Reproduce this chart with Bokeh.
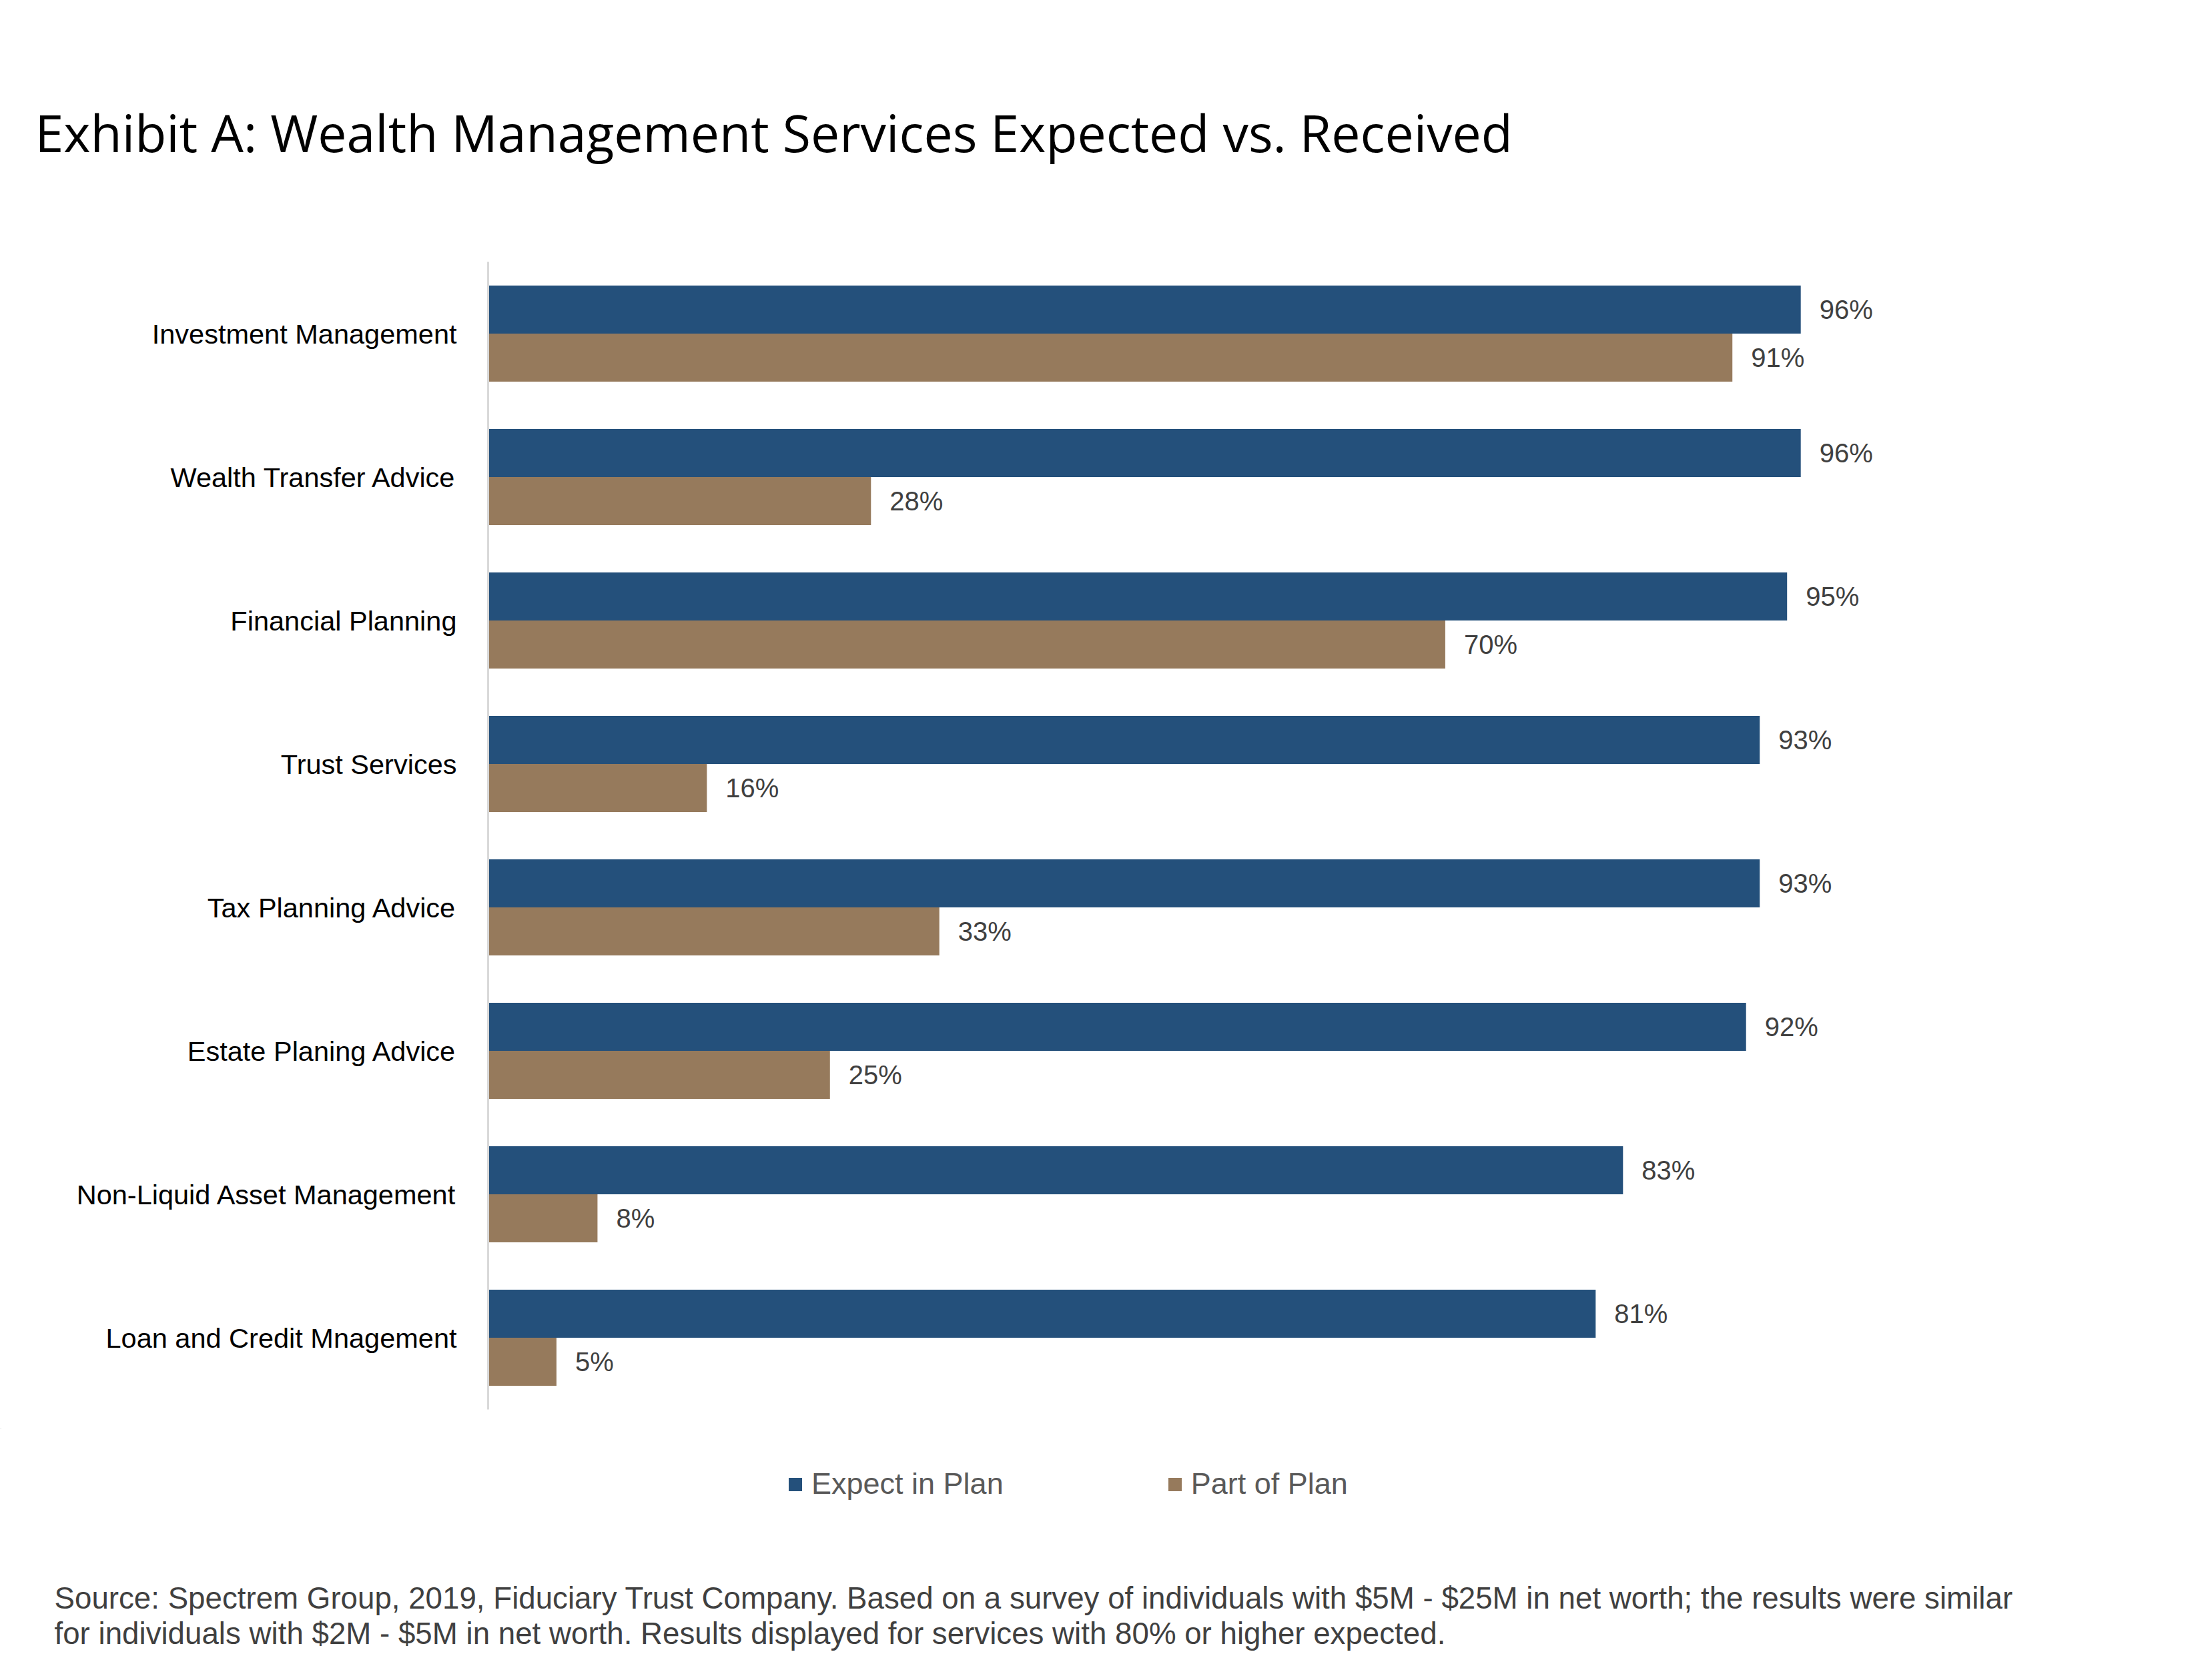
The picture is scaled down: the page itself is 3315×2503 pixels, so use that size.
from bokeh.plotting import figure
from bokeh.layouts import column
from bokeh.models import ColumnDataSource, Range1d, FactorRange, Legend, LegendItem
from bokeh.transform import dodge
from bokeh.core.properties import value
from bokeh.embed import file_html
from bokeh.resources import INLINE

# ---- data (top to bottom as in the chart) ----
categories = [
    "Investment Management",
    "Wealth Transfer Advice",
    "Financial Planning",
    "Trust Services",
    "Tax Planning Advice",
    "Estate Planing Advice",
    "Non-Liquid Asset Management",
    "Loan and Credit Mnagement",
]
expect_in_plan = [96, 96, 95, 93, 93, 92, 83, 81]
part_of_plan = [91, 28, 70, 16, 33, 25, 8, 5]
series_names = ["Expect in Plan", "Part of Plan"]

title_text = "Exhibit A: Wealth Management Services Expected vs. Received"
note_lines = [
    "Source: Spectrem Group, 2019, Fiduciary Trust Company. Based on a survey of individuals with $5M - $25M in net worth; the results were similar",
    "for individuals with $2M - $5M in net worth. Results displayed for services with 80% or higher expected.",
]

BLUE = "#24507B"
BROWN = "#967A5C"
LABEL_FONT = "Liberation Sans"

W = 3299
TITLE_H = 300
MAIN_H = 1840
FOOT_H = 347


def blank_fig(height, y_top):
    f = figure(width=W, height=height,
               x_range=Range1d(0, W), y_range=Range1d(y_top + height, y_top),
               output_backend="svg", toolbar_location=None,
               min_border=0, frame_align=False)
    f.axis.visible = False
    f.grid.visible = False
    f.outline_line_color = None
    return f


# ---- title ----
t = blank_fig(TITLE_H, 0)
t.text(x=[52], y=[198], text=[title_text], text_font=value("Open Sans"),
       text_font_size="77px", text_color="#000000",
       text_baseline="alphabetic", text_align="left")

# ---- main chart ----
source = ColumnDataSource(dict(
    cat=categories,
    expect=expect_in_plan,
    part=part_of_plan,
    expect_lbl=[f"{v}%" for v in expect_in_plan],
    part_lbl=[f"{v}%" for v in part_of_plan],
))

p = figure(
    width=W, height=MAIN_H,
    x_range=Range1d(0, 120),
    y_range=FactorRange(factors=list(reversed(categories)), range_padding=0),
    output_backend="svg", toolbar_location=None,
    min_border_left=731, min_border_right=109,
    min_border_top=92, min_border_bottom=28, frame_align=False,
)
p.outline_line_color = None
p.xgrid.visible = False
p.ygrid.visible = False
p.xaxis.visible = False

ax = p.yaxis[0]
ax.axis_line_color = "#D9D9D9"
ax.axis_line_width = 3
ax.major_tick_line_color = None
ax.minor_tick_line_color = None
ax.major_tick_out = 0
ax.major_tick_in = 0
ax.major_label_standoff = 47
ax.major_label_text_font = LABEL_FONT
ax.major_label_text_font_size = "41.5px"
ax.major_label_text_color = "#000000"

BH = 0.335
off = BH / 2
r1 = p.hbar(y=dodge("cat", off, range=p.y_range), right="expect", left=0, height=BH,
            source=source, fill_color=BLUE, line_color=None)
r2 = p.hbar(y=dodge("cat", -off, range=p.y_range), right="part", left=0, height=BH,
            source=source, fill_color=BROWN, line_color=None)

for col, lbl, o in (("expect", "expect_lbl", off), ("part", "part_lbl", -off)):
    p.text(x=col, y=dodge("cat", o, range=p.y_range), text=lbl, source=source,
           x_offset=28, text_align="left", text_baseline="middle",
           text_font=value(LABEL_FONT), text_font_size="40px", text_color="#404040")

# ---- footer: legend + source note ----
y0 = TITLE_H + MAIN_H
fo = blank_fig(FOOT_H, y0)
# legend swatches: renderers whose only row lies outside the visible frame
lg1 = fo.hbar(y=[-9999], right=[1], left=[0], height=1, fill_color=BLUE, line_color=None)
lg2 = fo.hbar(y=[-9999], right=[1], left=[0], height=1, fill_color=BROWN, line_color=None)
legend = Legend(
    items=[LegendItem(label=series_names[0], renderers=[lg1], index=0),
           LegendItem(label=series_names[1], renderers=[lg2], index=0)],
    orientation="horizontal", location=(1179, FOOT_H - (2211 - y0) - 39),
    glyph_width=25, glyph_height=25, label_height=25, label_standoff=12, spacing=244,
    padding=0, margin=0, border_line_color=None, background_fill_alpha=0,
    label_text_font=LABEL_FONT, label_text_font_size="45px", label_text_color="#595959",
)
fo.add_layout(legend)
fo.text(x=[81, 81], y=[2395, 2448], text=note_lines, text_font=value(LABEL_FONT),
        text_font_size="45.7px", text_color="#404040",
        text_baseline="alphabetic", text_align="left")

layout = column(t, p, fo, spacing=0)
open("out.html", "w").write(file_html(layout, INLINE))
